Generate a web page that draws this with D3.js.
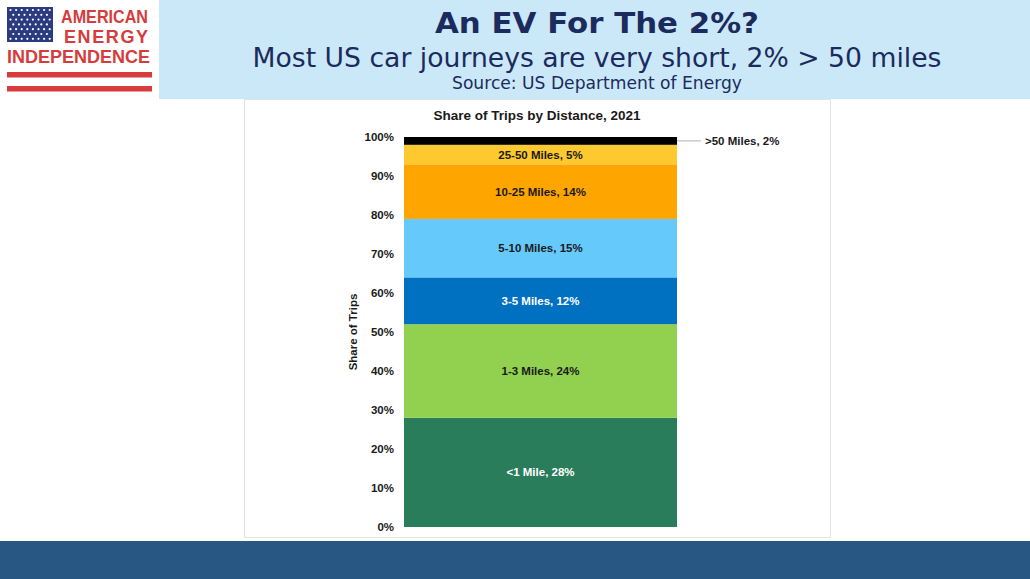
<!DOCTYPE html>
<html>
<head>
<meta charset="utf-8">
<script src="https://cdn.jsdelivr.net/npm/d3@7"></script>
<style>
  html, body { margin: 0; padding: 0; background: #ffffff; }
  svg { display: block; }
</style>
</head>
<body>
<svg id="chart" width="1030" height="579"></svg>
<script>
// ---- Data ----
const categories = ["<1 Mile", "1-3 Miles", "3-5 Miles", "5-10 Miles", "10-25 Miles", "25-50 Miles", ">50 Miles"];
const shares = [28, 24, 12, 15, 14, 5, 2];
const yTicks = [0, 10, 20, 30, 40, 50, 60, 70, 80, 90, 100];
const barYear = ["2021"];
const chartTitle = "Share of Trips by Distance, 2021";
const yAxisTitle = "Share of Trips";
const headTitle = "An EV For The 2%?";
const headSubtitle = "Most US car journeys are very short, 2% > 50 miles";
const headSource = "Source: US Department of Energy";

// ---- Styles ----
const segColors = ["#297d5a", "#92d050", "#0070c0", "#66c9fb", "#ffa500", "#fdc92e", "#000000"];
const segTextColors = ["#ffffff", "#1a1a1a", "#ffffff", "#1a1a1a", "#1a1a1a", "#1a1a1a", "#1a1a1a"];
const navy = "#1b2b5e";
const red = "#d63c3b";

const svg = d3.select("#chart");

// ---- Background bands ----
svg.append("rect").attr("x", 159).attr("y", 0).attr("width", 871).attr("height", 99).attr("fill", "#cbe8f8");
svg.append("rect").attr("x", 0).attr("y", 541).attr("width", 1030).attr("height", 38).attr("fill", "#285784");
svg.append("rect").attr("x", 244.5).attr("y", 99.5).attr("width", 586).attr("height", 438)
  .attr("fill", "#ffffff").attr("stroke", "#e2e2e2").attr("stroke-width", 1);

// ---- Logo ----
const logo = svg.append("g");
logo.append("rect").attr("x", 7).attr("y", 7).attr("width", 46).attr("height", 35).attr("fill", "#2b3b80");
for (let r = 0; r < 7; r++) {
  for (let c = 0; c < 8; c++) {
    const off = (r % 2) ? 2.8 : 0;
    const cx = 10.5 + c * 5.6 + off;
    if (cx > 51) continue;
    logo.append("circle").attr("cx", cx).attr("cy", 10 + r * 4.8).attr("r", 1.1).attr("fill", "#ffffff");
  }
}
const fitText = (sel, w, mode) => sel.attr("textLength", w).attr("lengthAdjust", mode || "spacingAndGlyphs");
fitText(logo.append("text").attr("x", 61).attr("y", 22.5).text("AMERICAN")
  .attr("font-family", "Liberation Sans, Arial, sans-serif").attr("font-weight", "bold")
  .attr("font-size", 18).attr("fill", red), 87);
fitText(logo.append("text").attr("x", 64).attr("y", 43).text("ENERGY")
  .attr("font-family", "Liberation Sans, Arial, sans-serif").attr("font-weight", "bold")
  .attr("font-size", 18).attr("fill", red), 84, "spacing");
fitText(logo.append("text").attr("x", 7).attr("y", 63).text("INDEPENDENCE")
  .attr("font-family", "Liberation Sans, Arial, sans-serif").attr("font-weight", "bold")
  .attr("font-size", 18).attr("fill", red), 143);
logo.append("rect").attr("x", 7).attr("y", 72).attr("width", 145).attr("height", 5.5).attr("fill", red);
logo.append("rect").attr("x", 7).attr("y", 86).attr("width", 145).attr("height", 5.5).attr("fill", red);

// ---- Header text ----
const hx = 597;
fitText(svg.append("text").attr("x", hx).attr("y", 33).attr("text-anchor", "middle")
  .attr("font-family", "DejaVu Sans, Verdana, sans-serif").attr("font-weight", "bold")
  .attr("font-size", 29).attr("fill", navy).text(headTitle), 324);
fitText(svg.append("text").attr("x", hx).attr("y", 67).attr("text-anchor", "middle")
  .attr("font-family", "DejaVu Sans, Verdana, sans-serif")
  .attr("font-size", 26).attr("fill", navy).text(headSubtitle), 689);
fitText(svg.append("text").attr("x", hx).attr("y", 89).attr("text-anchor", "middle")
  .attr("font-family", "DejaVu Sans, Verdana, sans-serif")
  .attr("font-size", 17).attr("fill", navy).text(headSource), 290);

// ---- Chart ----
const x = d3.scaleBand().domain(barYear).range([404, 677]).padding(0);
const y = d3.scaleLinear().domain([0, 100]).range([527, 137]);

const ends = Array.from(d3.cumsum(shares));
const segs = categories.map((c, i) => ({
  cat: c, val: shares[i], y0: ends[i] - shares[i], y1: ends[i],
  color: segColors[i], tcolor: segTextColors[i]
}));

const fontChart = "Liberation Sans, Arial, Helvetica, sans-serif";

svg.append("text").attr("x", 537).attr("y", 120).attr("text-anchor", "middle")
  .attr("font-family", fontChart).attr("font-weight", "bold").attr("font-size", 13.5)
  .attr("fill", "#1a1a1a").text(chartTitle);

svg.append("g").selectAll("rect").data(segs).join("rect")
  .attr("x", x("2021")).attr("width", x.bandwidth())
  .attr("y", d => y(d.y1)).attr("height", d => y(d.y0) - y(d.y1))
  .attr("fill", d => d.color);

// inside labels (all except the last, small one)
svg.append("g").selectAll("text").data(segs.slice(0, -1)).join("text")
  .attr("x", x("2021") + x.bandwidth() / 2)
  .attr("y", d => y((d.y0 + d.y1) / 2))
  .attr("dy", "0.35em")
  .attr("text-anchor", "middle")
  .attr("font-family", fontChart).attr("font-weight", "bold").attr("font-size", 11.5)
  .attr("fill", d => d.tcolor)
  .text(d => `${d.cat}, ${d.val}%`);

// outside label for the top segment with leader line
const topSeg = segs[segs.length - 1];
const ty = y((topSeg.y0 + topSeg.y1) / 2);
svg.append("line").attr("x1", x("2021") + x.bandwidth()).attr("x2", 701)
  .attr("y1", ty).attr("y2", ty).attr("stroke", "#b0b0b0").attr("stroke-width", 1);
svg.append("text").attr("x", 705).attr("y", ty).attr("dy", "0.35em")
  .attr("font-family", fontChart).attr("font-weight", "bold").attr("font-size", 11.5)
  .attr("fill", "#1a1a1a").text(`${topSeg.cat}, ${topSeg.val}%`);

// y axis
const yAxis = svg.append("g").attr("transform", "translate(404,0)")
  .call(d3.axisLeft(y).tickValues(yTicks).tickSize(0).tickPadding(10).tickFormat(d => d + "%"));
yAxis.select(".domain").remove();
yAxis.selectAll("text").attr("font-family", fontChart).attr("font-weight", "bold")
  .attr("font-size", 11.5).attr("fill", "#1a1a1a");

svg.append("text").attr("transform", "translate(357,332) rotate(-90)")
  .attr("text-anchor", "middle").attr("font-family", fontChart).attr("font-weight", "bold")
  .attr("font-size", 11.5).attr("fill", "#1a1a1a").text(yAxisTitle);
</script>
</body>
</html>
